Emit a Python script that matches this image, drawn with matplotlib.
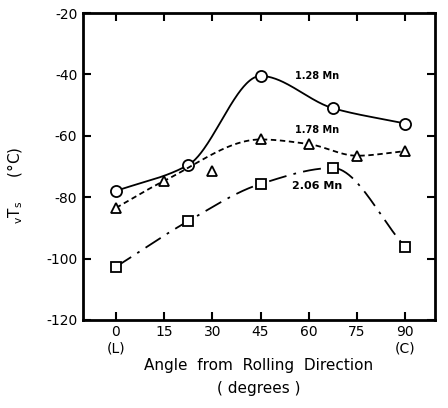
import numpy as np
import matplotlib
matplotlib.use('Agg')
import matplotlib.pyplot as plt

plt.rcParams['axes.unicode_minus'] = False
plt.rcParams['font.family'] = 'DejaVu Sans'

angle_128 = [0, 22.5, 45, 67.5, 90]
vts_128 = [-78, -69.5, -40.5, -51, -56]

angle_178 = [0, 15, 30, 45, 60, 75, 90]
vts_178 = [-83.5, -74.7, -71.5, -61.2, -62.7, -66.5, -65]
on_curve_178 = [True, True, False, True, True, True, True]

angle_206 = [0, 22.5, 45, 67.5, 90]
vts_206 = [-102.7, -87.8, -75.7, -70.5, -96.2]

xticks = [0, 15, 30, 45, 60, 75, 90]
xticklabels = ['0\n(L)', '15', '30', '45', '60', '75', '90\n(C)']
yticks = [-120, -100, -80, -60, -40, -20]


def pchip(x, y, xs):
    # monotone cubic (Fritsch-Carlson) just for drawing the smooth curve
    x = np.asarray(x, float)
    y = np.asarray(y, float)
    h = np.diff(x)
    d = np.diff(y) / h
    m = np.zeros_like(y)
    for k in range(1, len(x) - 1):
        if d[k - 1] * d[k] > 0:
            w1 = 2 * h[k] + h[k - 1]
            w2 = h[k] + 2 * h[k - 1]
            m[k] = (w1 + w2) / (w1 / d[k - 1] + w2 / d[k])
    m[0] = d[0]
    m[-1] = d[-1]
    out = np.empty_like(xs)
    for i, xv in enumerate(xs):
        k = min(np.searchsorted(x, xv, side='right') - 1, len(x) - 2)
        t = (xv - x[k]) / h[k]
        h00 = 2 * t**3 - 3 * t**2 + 1
        h10 = t**3 - 2 * t**2 + t
        h01 = -2 * t**3 + 3 * t**2
        h11 = t**3 - t**2
        out[i] = h00 * y[k] + h10 * h[k] * m[k] + h01 * y[k + 1] + h11 * h[k] * m[k + 1]
    return out


fig = plt.figure(figsize=(4.48, 4.08), dpi=100)
ax = fig.add_axes([0.185, 0.216, 0.786, 0.752])

xs = np.linspace(0, 90, 300)

ax.plot(xs, pchip(angle_128, vts_128, xs), color='k', lw=1.3, ls='-')
ax.plot(angle_128, vts_128, 'o', ms=8, mfc='white', mec='k', mew=1.3)

cx = [a for a, c in zip(angle_178, on_curve_178) if c]
cy = [v for v, c in zip(vts_178, on_curve_178) if c]
ax.plot(xs, pchip(cx, cy, xs), color='k', lw=1.3, ls=(0, (3, 2)))
ax.plot(angle_178, vts_178, '^', ms=7, mfc='white', mec='k', mew=1.3)

ax.plot(xs, pchip(angle_206, vts_206, xs), color='k', lw=1.3,
        ls=(0, (10, 4, 1.5, 4)))
ax.plot(angle_206, vts_206, 's', ms=7, mfc='white', mec='k', mew=1.3)

ax.text(62.5, -40.5, '1.28 Mn', fontsize=7, fontweight='bold', ha='center', va='center')
ax.text(62.5, -58, '1.78 Mn', fontsize=7, fontweight='bold', ha='center', va='center')
ax.text(62.5, -76.3, '2.06 Mn', fontsize=8, fontweight='bold', ha='center', va='center')

ax.set_xlim(-10.3, 99.3)
ax.set_ylim(-120, -20)
ax.set_xticks(xticks)
ax.set_xticklabels(xticklabels)
ax.set_yticks(yticks)
ax.tick_params(direction='in', length=6, width=1.5, labelsize=10,
               top=True, right=True, pad=4)
for s in ax.spines.values():
    s.set_linewidth(2)

ax.set_xlabel('Angle  from  Rolling  Direction\n( degrees )', fontsize=11,
              linespacing=1.6, labelpad=2)
ax.set_ylabel(r'$_{\mathrm{v}}\mathrm{T}_{\mathrm{s}}$     (°C)', fontsize=11)
ax.yaxis.set_label_coords(-0.165, 0.44)

fig.savefig('out.png', dpi=100)
